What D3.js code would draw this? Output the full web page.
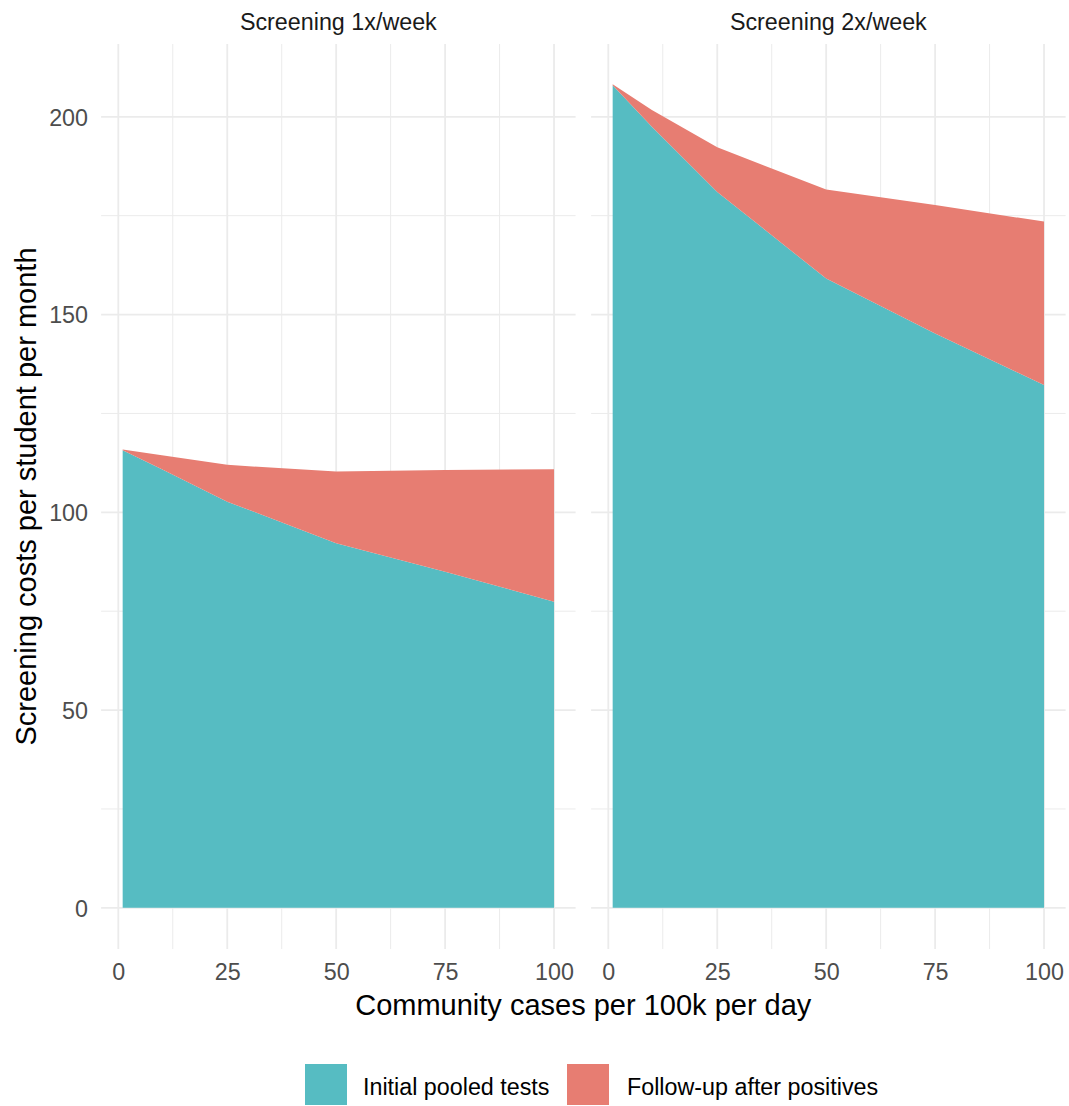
<!DOCTYPE html>
<html>
<head>
<meta charset="utf-8">
<script src="https://cdn.jsdelivr.net/npm/d3@7"></script>
<style>
  html, body { margin: 0; padding: 0; background: #fff; }
  svg { display: block; font-family: "Liberation Sans", Arial, Helvetica, sans-serif; }
</style>
</head>
<body>
<svg id="chart" width="1069" height="1106"></svg>
<script>
// ---- data ----
const cases = [1, 10, 25, 50, 75, 100];
const facets = ["Screening 1x/week", "Screening 2x/week"];
const series = ["Initial pooled tests", "Follow-up after positives"];
const initial1x = [115.7, 110.9, 102.7, 92.2, 85.0, 77.4];
const followup1x = [0.2, 3.5, 9.3, 18.1, 25.7, 33.5];
const initial2x = [208.0, 197.5, 181.0, 159.1, 145.2, 132.2];
const followup2x = [0.2, 4.2, 11.3, 22.5, 32.5, 41.3];
const yTicks = [0, 50, 100, 150, 200];
const yMinor = [25, 75, 125, 175];
const xTicks = [0, 25, 50, 75, 100];
const xMinor = [12.5, 37.5, 62.5, 87.5];
const colors = ["#56bcc2", "#e77d72"];

const svg = d3.select("#chart");
const panels = [
  { title: facets[0], initial: initial1x, follow: followup1x, x0: 101.1, x1: 575.6 },
  { title: facets[1], initial: initial2x, follow: followup2x, x0: 591.1, x1: 1065.6 }
];
const panelTop = 44, panelBottom = 949;
const y = d3.scaleLinear().domain([-10.4, 218.4]).range([panelBottom, panelTop]);
const gridCol = "#ebebeb";
const textCol = "#4d4d4d";

panels.forEach((p, pi) => {
  const x = d3.scaleLinear().domain([-3.95, 104.95]).range([p.x0, p.x1]);
  const g = svg.append("g");
  // minor grid
  g.selectAll(".ymin").data(yMinor).enter().append("line")
    .attr("x1", p.x0).attr("x2", p.x1).attr("y1", d => y(d)).attr("y2", d => y(d))
    .attr("stroke", gridCol).attr("stroke-width", 1);
  g.selectAll(".xmin").data(xMinor).enter().append("line")
    .attr("y1", panelTop).attr("y2", panelBottom).attr("x1", d => x(d)).attr("x2", d => x(d))
    .attr("stroke", gridCol).attr("stroke-width", 1);
  // major grid
  g.selectAll(".ymaj").data(yTicks).enter().append("line")
    .attr("x1", p.x0).attr("x2", p.x1).attr("y1", d => y(d)).attr("y2", d => y(d))
    .attr("stroke", gridCol).attr("stroke-width", 1.8);
  g.selectAll(".xmaj").data(xTicks).enter().append("line")
    .attr("y1", panelTop).attr("y2", panelBottom).attr("x1", d => x(d)).attr("x2", d => x(d))
    .attr("stroke", gridCol).attr("stroke-width", 1.8);

  // stacked areas
  const rows = cases.map((c, i) => ({ x: c, initial: p.initial[i], follow: p.follow[i] }));
  const stacked = d3.stack().keys(["initial", "follow"])(rows);
  const area = d3.area()
    .x(d => x(d.data.x))
    .y0(d => y(d[0]))
    .y1(d => y(d[1]));
  g.selectAll(".area").data(stacked).enter().append("path")
    .attr("d", area)
    .attr("fill", (d, i) => colors[i]);

  // strip title
  svg.append("text")
    .attr("x", (p.x0 + p.x1) / 2).attr("y", 30)
    .attr("text-anchor", "middle")
    .attr("font-size", 23.3).attr("fill", "#1a1a1a")
    .text(p.title);

  // x axis labels
  const xAxis = d3.axisBottom(x).tickValues(xTicks).tickSize(0).tickPadding(0);
  const xa = svg.append("g").attr("transform", `translate(0,${panelBottom})`).call(xAxis);
  xa.select(".domain").remove();
  xa.selectAll("text")
    .attr("dy", null).attr("y", 31)
    .attr("font-size", 23.3).attr("fill", textCol)
    .attr("font-family", "Liberation Sans, Arial, sans-serif");

  // y axis labels (only first panel)
  if (pi === 0) {
    const yAxis = d3.axisLeft(y).tickValues(yTicks).tickSize(0).tickPadding(0);
    const ya = svg.append("g").attr("transform", `translate(88,0)`).call(yAxis);
    ya.select(".domain").remove();
    ya.selectAll("text")
      .attr("dy", "0.36em")
      .attr("font-size", 23.3).attr("fill", textCol)
      .attr("font-family", "Liberation Sans, Arial, sans-serif");
  }
});

// axis titles
svg.append("text")
  .attr("x", 583.3).attr("y", 1015)
  .attr("text-anchor", "middle")
  .attr("font-size", 29).attr("fill", "#000")
  .text("Community cases per 100k per day");
svg.append("text")
  .attr("transform", "translate(36,496.5) rotate(-90)")
  .attr("text-anchor", "middle")
  .attr("font-size", 29).attr("fill", "#000")
  .text("Screening costs per student per month");

// legend
const legendItems = [
  { label: series[0], color: colors[0], kx: 305, tx: 363 },
  { label: series[1], color: colors[1], kx: 567, tx: 627 }
];
const lg = svg.append("g");
legendItems.forEach(it => {
  lg.append("rect").attr("x", it.kx).attr("y", 1064).attr("width", 42).attr("height", 41)
    .attr("fill", it.color);
  lg.append("text").attr("x", it.tx).attr("y", 1095)
    .attr("font-size", 23.3).attr("fill", "#000")
    .text(it.label);
});
</script>
</body>
</html>
